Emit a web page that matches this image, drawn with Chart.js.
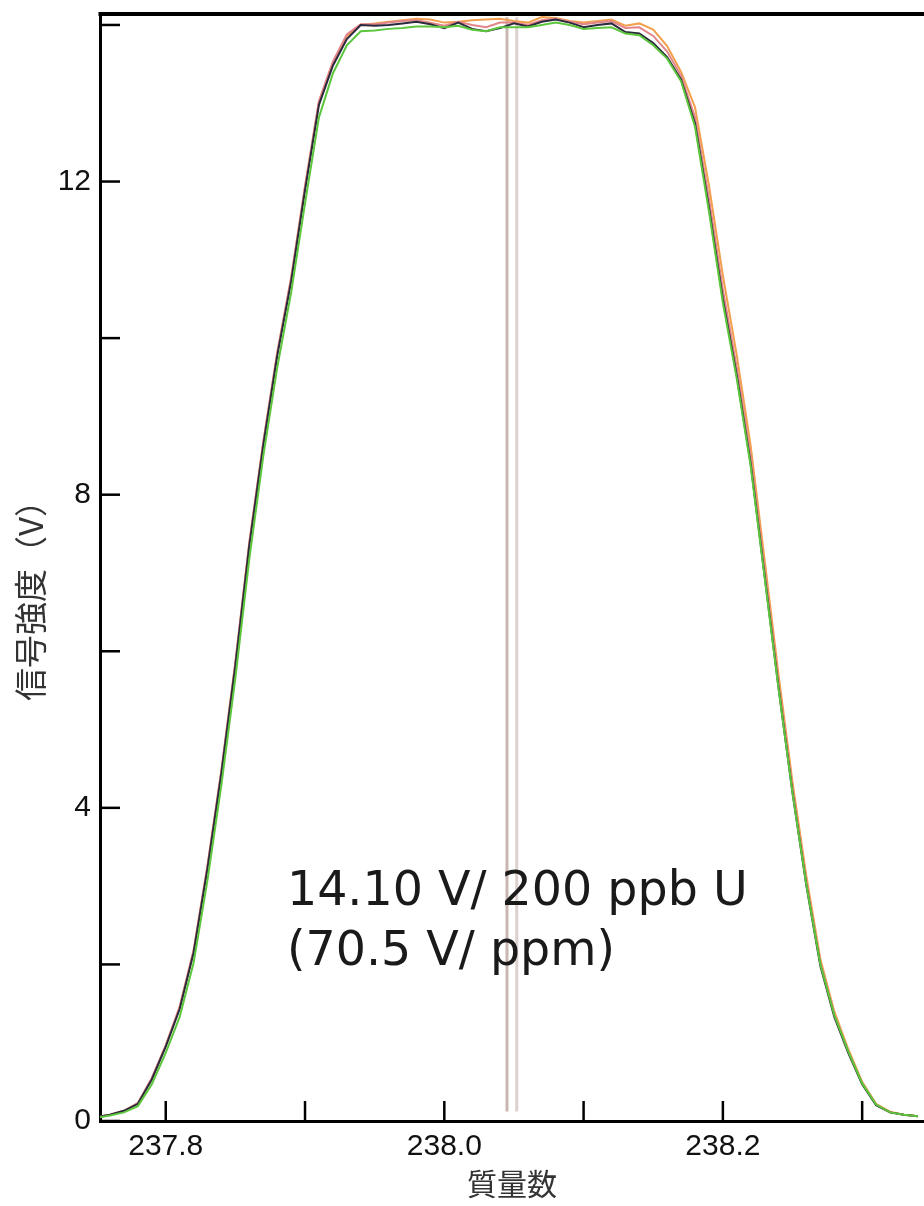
<!DOCTYPE html>
<html>
<head>
<meta charset="utf-8">
<script src="https://cdn.jsdelivr.net/npm/chart.js@4.4.1/dist/chart.umd.min.js"></script>
<style>
  html, body { margin: 0; padding: 0; background: #fff; }
</style>
</head>
<body>
<canvas id="grafica" width="924" height="1206"></canvas>
<script>
// masas (eje x) y señal de cada barrido (V)
const masas = [237.75, 237.76, 237.77, 237.78, 237.79, 237.80, 237.81, 237.82, 237.83, 237.84,
  237.85, 237.86, 237.87, 237.88, 237.89, 237.90, 237.91, 237.92, 237.93, 237.94,
  237.95, 237.96, 237.97, 237.98, 237.99, 238.00, 238.01, 238.02, 238.03, 238.04,
  238.05, 238.06, 238.07, 238.08, 238.09, 238.10, 238.11, 238.12, 238.13, 238.14,
  238.15, 238.16, 238.17, 238.18, 238.19, 238.20, 238.21, 238.22, 238.23, 238.24,
  238.25, 238.26, 238.27, 238.28, 238.29, 238.30, 238.31, 238.32, 238.33, 238.34];

const serieNaranja = [0.05, 0.08, 0.13, 0.22, 0.54, 0.96, 1.45, 2.17, 3.25, 4.47,
  5.85, 7.38, 8.66, 9.80, 10.76, 11.93, 13.02, 13.52, 13.86, 14.00,
  14.02, 14.04, 14.06, 14.08, 14.07, 14.03, 14.04, 14.06, 14.07, 14.08,
  14.05, 14.03, 14.10, 14.09, 14.05, 14.03, 14.05, 14.07, 13.99, 14.02,
  13.94, 13.73, 13.40, 12.95, 11.95, 10.80, 9.78, 8.62, 7.16, 5.70,
  4.33, 3.12, 2.07, 1.40, 0.92, 0.50, 0.22, 0.12, 0.08, 0.06];

const serieRoja = [0.05, 0.08, 0.13, 0.23, 0.55, 0.97, 1.46, 2.18, 3.27, 4.49,
  5.86, 7.39, 8.67, 9.81, 10.77, 11.94, 13.03, 13.53, 13.88, 14.01,
  14.01, 14.03, 14.05, 14.06, 14.03, 13.99, 14.04, 14.00, 13.97, 14.03,
  14.03, 14.00, 14.06, 14.08, 14.04, 14.01, 14.03, 14.05, 13.96, 13.97,
  13.86, 13.66, 13.35, 12.82, 11.78, 10.62, 9.62, 8.48, 7.04, 5.60,
  4.25, 3.05, 2.02, 1.36, 0.89, 0.48, 0.21, 0.11, 0.08, 0.06];

const serieOscura = [0.05, 0.08, 0.13, 0.22, 0.53, 0.95, 1.43, 2.15, 3.23, 4.45,
  5.82, 7.35, 8.63, 9.77, 10.72, 11.89, 12.98, 13.48, 13.82, 14.00,
  13.99, 14.00, 14.02, 14.04, 14.01, 13.96, 14.03, 13.95, 13.92, 13.96,
  14.02, 13.98, 14.04, 14.07, 14.03, 13.97, 14.00, 14.02, 13.91, 13.89,
  13.77, 13.59, 13.30, 12.74, 11.67, 10.50, 9.52, 8.39, 6.96, 5.53,
  4.19, 3.00, 1.98, 1.33, 0.87, 0.47, 0.20, 0.11, 0.08, 0.06];

const serieVerde = [0.04, 0.07, 0.11, 0.19, 0.47, 0.87, 1.33, 2.02, 3.08, 4.30,
  5.66, 7.18, 8.49, 9.62, 10.58, 11.72, 12.82, 13.38, 13.74, 13.92,
  13.93, 13.95, 13.96, 13.98, 13.98, 13.97, 13.99, 13.94, 13.92, 13.97,
  13.97, 13.97, 14.00, 14.03, 14.00, 13.95, 13.96, 13.97, 13.89, 13.87,
  13.74, 13.57, 13.28, 12.70, 11.62, 10.45, 9.48, 8.36, 6.94, 5.52,
  4.19, 3.01, 2.00, 1.35, 0.89, 0.48, 0.21, 0.11, 0.08, 0.06];

// líneas verticales de referencia
const marcadores = [238.045, 238.052];
const marcadorRango = [0.12, 14.1];

const anotacion = ['14.10 V/ 200 ppb U', '(70.5 V/ ppm)'];
const tituloX = '質量数';
const tituloY = '信号強度（V）';

function puntos(serie) {
  return masas.map((m, i) => ({ x: m, y: serie[i] }));
}

function linea(serie, color) {
  return {
    data: puntos(serie),
    borderColor: color,
    borderWidth: 2,
    pointRadius: 0,
    tension: 0,
    fill: false
  };
}

const datasets = [
  linea(serieVerde, '#5cc63c'),
  linea(serieOscura, '#2a2a3c'),
  linea(serieRoja, '#e2858a'),
  linea(serieNaranja, '#f2a04e')
];
marcadores.forEach((m, i) => {
  datasets.push({
    data: marcadorRango.map(v => ({ x: m, y: v })),
    borderColor: i === 0 ? '#c9b5b1' : '#ddd1cf',
    borderWidth: 3,
    pointRadius: 0,
    fill: false
  });
});

// ticks hacia dentro, borde superior, texto y título vertical
const extras = {
  id: 'extras',
  afterDraw(chart) {
    const { ctx, chartArea, scales } = chart;
    const sx = scales.x, sy = scales.y;
    ctx.save();
    ctx.strokeStyle = '#000';
    ctx.lineWidth = 2.5;
    sx.ticks.forEach(t => {
      const px = sx.getPixelForValue(t.value);
      ctx.beginPath();
      ctx.moveTo(px, chartArea.bottom);
      ctx.lineTo(px, chartArea.bottom - 20);
      ctx.stroke();
    });
    sy.ticks.forEach(t => {
      const py = sy.getPixelForValue(t.value);
      ctx.beginPath();
      ctx.moveTo(chartArea.left, py);
      ctx.lineTo(chartArea.left + 20, py);
      ctx.stroke();
    });
    ctx.lineWidth = 4;
    ctx.beginPath();
    ctx.moveTo(chartArea.left - 1.5, chartArea.top);
    ctx.lineTo(chartArea.right, chartArea.top);
    ctx.stroke();

    ctx.fillStyle = '#1a1a1a';
    ctx.font = '47.5px "DejaVu Sans"';
    ctx.textAlign = 'left';
    ctx.textBaseline = 'alphabetic';
    const tx = sx.getPixelForValue(237.887);
    const ty = sy.getPixelForValue(2.76);
    ctx.fillText(anotacion[0], tx, ty);
    ctx.fillText(anotacion[1], tx, ty + 60);

    ctx.fillStyle = '#333';
    ctx.font = '33px "Noto Sans CJK JP"';
    ctx.textAlign = 'center';
    ctx.textBaseline = 'middle';
    ctx.translate(30, sy.getPixelForValue(6.75));
    ctx.rotate(-Math.PI / 2);
    ctx.fillText(tituloY, 0, 0);
    ctx.restore();
  }
};

new Chart(document.getElementById('grafica'), {
  type: 'line',
  data: { datasets: datasets },
  options: {
    responsive: false,
    animation: false,
    layout: { padding: { top: 14, left: 0, right: 0, bottom: 0 } },
    plugins: { legend: { display: false }, tooltip: { enabled: false } },
    scales: {
      x: {
        type: 'linear',
        min: 237.7528,
        max: 238.3444,
        grid: { display: false, drawTicks: false },
        border: { display: true, color: '#000', width: 3 },
        ticks: {
          stepSize: 0.1,
          includeBounds: false,
          padding: 8,
          color: '#111',
          font: { family: '"Liberation Sans", Arial', size: 30 },
          maxRotation: 0,
          autoSkip: false,
          callback: v => (Math.round(v * 10) % 2 === 0 ? v.toFixed(1) : '')
        },
        title: {
          display: true,
          text: tituloX,
          color: '#333',
          font: { family: '"Noto Sans CJK JP"', size: 30 },
          padding: { top: 0, bottom: 4 }
        },
        afterFit: s => { s.height = 85; s.paddingLeft = 0; s.paddingRight = 0; }
      },
      y: {
        min: 0,
        max: 14.14,
        grid: { display: false, drawTicks: false },
        border: { display: true, color: '#000', width: 3 },
        ticks: {
          stepSize: 2,
          includeBounds: false,
          padding: 9,
          color: '#111',
          font: { family: '"Liberation Sans", Arial', size: 30 },
          callback: v => (v % 4 === 0 ? String(v) : '')
        },
        afterFit: s => { s.width = 100; s.paddingTop = 0; s.paddingBottom = 0; }
      }
    }
  },
  plugins: [extras]
});
</script>
</body>
</html>
